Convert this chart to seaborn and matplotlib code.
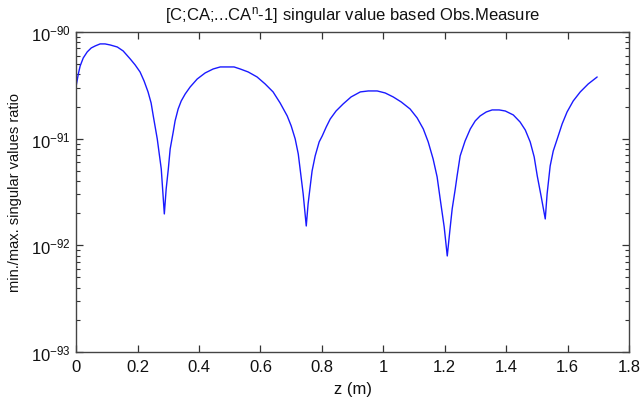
import numpy as np
import pandas as pd
import matplotlib
matplotlib.use("Agg")
import matplotlib.pyplot as plt
from matplotlib.ticker import LogLocator, FixedLocator
import seaborn as sns

# position along the beam, z (m)
z_m = [0.000, 0.007, 0.013, 0.023, 0.036, 0.049, 0.062, 0.078, 0.094, 0.111, 0.134, 0.153, 0.176,
       0.192, 0.208, 0.221, 0.234, 0.244, 0.251, 0.264, 0.277, 0.287,
       0.293, 0.300, 0.306, 0.316, 0.322, 0.332, 0.342, 0.355, 0.371, 0.394, 0.420, 0.446, 0.469,
       0.492, 0.514, 0.534, 0.560, 0.589, 0.615, 0.641, 0.664, 0.687, 0.700, 0.713, 0.723, 0.729,
       0.739, 0.749,
       0.755, 0.762, 0.768, 0.778, 0.791, 0.801, 0.814, 0.827, 0.846, 0.869, 0.895, 0.925, 0.951,
       0.980, 1.006, 1.032, 1.058, 1.087, 1.110, 1.130, 1.146, 1.162, 1.175, 1.185, 1.198, 1.208,
       1.217, 1.224, 1.234, 1.240, 1.250, 1.266, 1.283, 1.299, 1.315, 1.335, 1.354, 1.377, 1.397,
       1.423, 1.445, 1.462, 1.478, 1.491, 1.501, 1.514, 1.527,
       1.533, 1.543, 1.553, 1.566, 1.582, 1.598, 1.618, 1.641, 1.667, 1.696]

# log10 of the min./max. singular value ratio at each position
log10_ratio = [-90.506, -90.394, -90.319, -90.244, -90.187, -90.150, -90.131, -90.112, -90.112,
               -90.122, -90.141, -90.178, -90.253, -90.309, -90.375, -90.459, -90.562, -90.666,
               -90.787, -91.003, -91.284, -91.706,
               -91.472, -91.284, -91.097, -90.937, -90.834, -90.722, -90.647, -90.581, -90.516,
               -90.441, -90.384, -90.347, -90.328, -90.328, -90.328, -90.347, -90.375, -90.422,
               -90.487, -90.562, -90.666, -90.787, -90.881, -91.003, -91.144, -91.284, -91.519,
               -91.819,
               -91.612, -91.444, -91.303, -91.162, -91.031, -90.975, -90.891, -90.816, -90.741,
               -90.675, -90.609, -90.562, -90.553, -90.553, -90.572, -90.609, -90.656, -90.722,
               -90.806, -90.909, -91.031, -91.191, -91.359, -91.566, -91.828, -92.100,
               -91.847, -91.659, -91.472, -91.350, -91.162, -91.022, -90.909, -90.834, -90.787,
               -90.750, -90.731, -90.731, -90.741, -90.778, -90.844, -90.919, -91.031, -91.172,
               -91.350, -91.547, -91.753,
               -91.519, -91.256, -91.116, -91.003, -90.862, -90.750, -90.647, -90.562, -90.487,
               -90.422]

x_ticks = [0, 0.2, 0.4, 0.6, 0.8, 1, 1.2, 1.4, 1.6, 1.8]
x_tick_labels = ["0", "0.2", "0.4", "0.6", "0.8", "1", "1.2", "1.4", "1.6", "1.8"]

df = pd.DataFrame({"z": z_m, "ratio": 10.0 ** np.array(log10_ratio)})

sns.set_style("white")
plt.rcParams["font.family"] = ["Liberation Sans", "DejaVu Sans"]
plt.rcParams["mathtext.fontset"] = "custom"
plt.rcParams["mathtext.rm"] = "Liberation Sans"
plt.rcParams["mathtext.it"] = "Liberation Sans:italic"
plt.rcParams["mathtext.bf"] = "Liberation Sans:bold"

fig = plt.figure(figsize=(6.4, 4.02), dpi=100)
ax = fig.add_axes([0.119, 0.122, 0.864, 0.796])

sns.lineplot(data=df, x="z", y="ratio", ax=ax, color="#1a1aff", linewidth=1.0, sort=False)

ax.set_yscale("log")
ax.set_xlim(0, 1.8)
ax.set_ylim(1e-93, 1e-90)
ax.set_xticks(x_ticks)
ax.set_xticklabels(x_tick_labels)
ax.yaxis.set_major_locator(FixedLocator([1e-93, 1e-92, 1e-91, 1e-90]))
ax.yaxis.set_minor_locator(LogLocator(base=10, subs=np.arange(2, 10), numticks=20))
ax.xaxis.set_minor_locator(FixedLocator([]))

for s in ax.spines.values():
    s.set_color("#444444")
    s.set_linewidth(1.0)
    s.set_visible(True)

ax.tick_params(which="both", direction="in", bottom=True, left=True, top=True, right=True,
               color="#333333", labelsize=12, labelcolor="#111111")
ax.tick_params(which="major", length=5, width=0.9)
ax.tick_params(which="minor", length=3, width=0.8)
ax.tick_params(axis="x", pad=5)
ax.tick_params(axis="y", pad=4)

ax.set_xlabel("z (m)", fontsize=12, color="#111111", labelpad=5)
ax.set_ylabel("min./max. singular values ratio", fontsize=10.5, color="#111111", labelpad=6)
ax.set_title(r"[C;CA;...CA$^{\mathrm{n}}$-1] singular value based Obs.Measure",
             fontsize=12, color="#111111", pad=9)

fig.savefig("out.png", dpi=100)
